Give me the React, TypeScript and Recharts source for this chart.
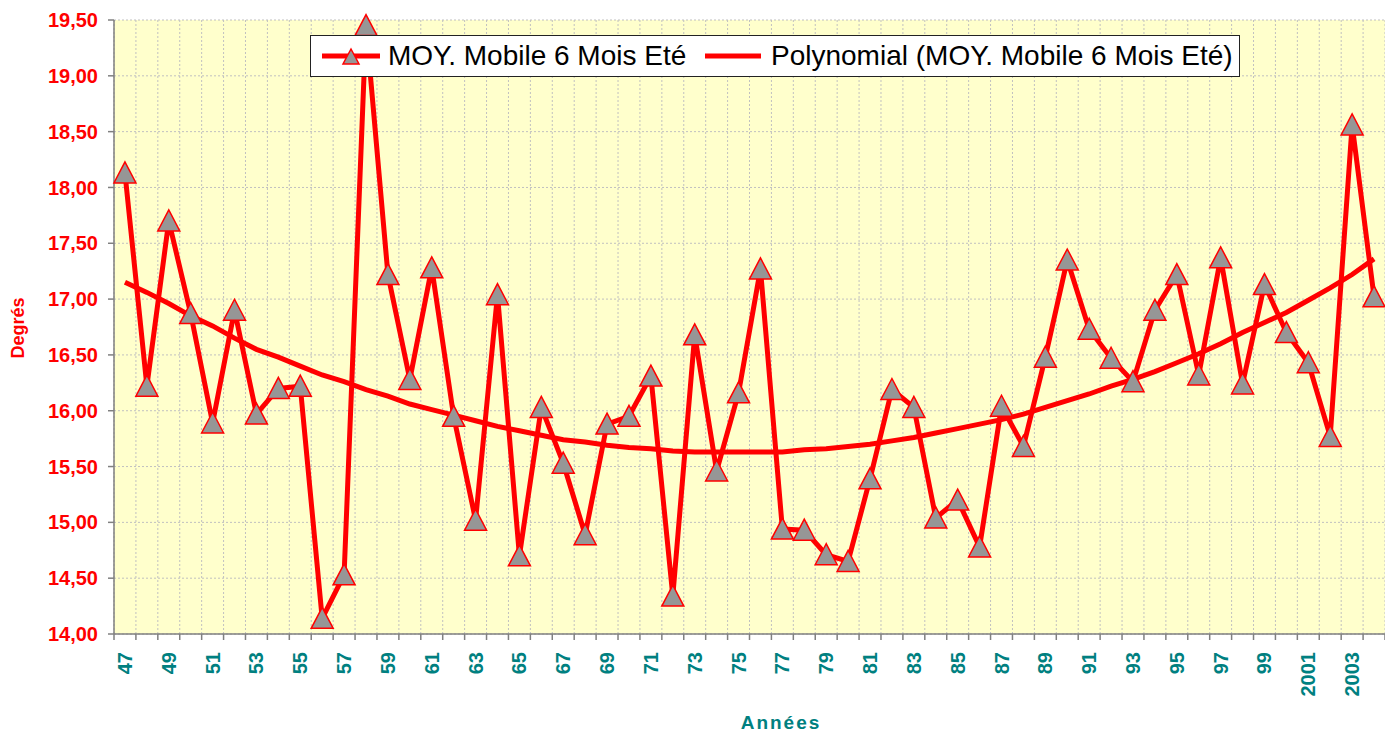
import React from "react";
import {
  LineChart,
  Line,
  XAxis,
  YAxis,
  CartesianGrid,
  Legend,
} from "recharts";

const years = [
  "47", "48", "49", "50", "51", "52", "53", "54", "55", "56",
  "57", "58", "59", "60", "61", "62", "63", "64", "65", "66",
  "67", "68", "69", "70", "71", "72", "73", "74", "75", "76",
  "77", "78", "79", "80", "81", "82", "83", "84", "85", "86",
  "87", "88", "89", "90", "91", "92", "93", "94", "95", "96",
  "97", "98", "99", "2000", "2001", "2002", "2003", "2004",
];

const moyMobile = [
  18.13, 16.22, 17.7, 16.87, 15.89, 16.9, 15.97, 16.2, 16.22, 14.14,
  14.53, 19.45, 17.22, 16.28, 17.28, 15.95, 15.02, 17.04, 14.7, 16.03,
  15.53, 14.89, 15.88, 15.95, 16.31, 14.34, 16.68, 15.46, 16.16, 17.27,
  14.94, 14.93, 14.71, 14.65, 15.39, 16.19, 16.03, 15.04, 15.2, 14.78,
  16.04, 15.68, 16.48, 17.35, 16.73, 16.47, 16.26, 16.9, 17.22, 16.32,
  17.37, 16.24, 17.13, 16.7, 16.43, 15.77, 18.56, 17.02,
];

const polynomial = [
  17.15, 17.06, 16.96, 16.85, 16.76, 16.65, 16.55, 16.48, 16.4, 16.32,
  16.26, 16.19, 16.13, 16.06, 16.01, 15.96, 15.91, 15.86, 15.82, 15.78,
  15.74, 15.72, 15.69, 15.67, 15.66, 15.64, 15.63, 15.63, 15.63, 15.63,
  15.63, 15.65, 15.66, 15.68, 15.7, 15.73, 15.76, 15.8, 15.84, 15.88,
  15.92, 15.97, 16.03, 16.09, 16.15, 16.22, 16.28, 16.35, 16.43, 16.51,
  16.6, 16.7, 16.79, 16.88, 16.99, 17.1, 17.22, 17.36,
];

const yTicks = [14, 14.5, 15, 15.5, 16, 16.5, 17, 17.5, 18, 18.5, 19, 19.5];

const SERIES_NAME = "MOY. Mobile 6 Mois Eté";
const TREND_NAME = "Polynomial (MOY. Mobile 6 Mois Eté)";

const FONT = '"Liberation Sans", Arial, sans-serif';
const RED = "#FF0000";
const TEAL = "#008080";

const WIDTH = 1385;
const HEIGHT = 738;
const Y_AXIS_W = 114;
const X_AXIS_H = 104;
const BAND = (WIDTH - Y_AXIS_W) / years.length;

// category boundaries (ticks + vertical grid sit between categories, Excel style)
const xTicks = Array.from({ length: years.length + 1 }, (_, i) => i);

const data = years.map((year, i) => ({
  pos: i + 0.5,
  year,
  value: moyMobile[i],
  trend: polynomial[i],
}));

const Triangle = ({ cx, cy, size = 11 }: any) => {
  if (cx == null || cy == null) return null;
  return (
    <polygon
      points={`${cx},${cy - size} ${cx - size},${cy + size - 1} ${cx + size},${cy + size - 1}`}
      fill="#969696"
      stroke={RED}
      strokeWidth={1.5}
    />
  );
};

const XTick = ({ x, y, payload }: any) => {
  const i = payload.value;
  if (i % 2 !== 0 || i >= years.length) return <g />;
  const cx = x + BAND / 2;
  return (
    <text
      x={cx}
      y={y}
      transform={`rotate(-90, ${cx}, ${y})`}
      textAnchor="end"
      dominantBaseline="central"
      fill={TEAL}
      fontSize={20}
      fontWeight="bold"
      fontFamily={FONT}
    >
      {years[i]}
    </text>
  );
};

const LegendBox = () => (
  <div
    style={{
      position: "relative",
      width: 930,
      height: 42,
      boxSizing: "border-box",
      border: "1px solid #222",
      background: "#fff",
      fontFamily: FONT,
      fontSize: 28,
      color: "#000",
    }}
  >
    <svg width={60} height={30} style={{ position: "absolute", left: 11, top: 5 }}>
      <line x1={0} y1={15} x2={58} y2={15} stroke={RED} strokeWidth={5} />
      <Triangle cx={29} cy={16} size={8} />
    </svg>
    <span style={{ position: "absolute", left: 77, top: 3, lineHeight: "34px" }}>
      {SERIES_NAME}
    </span>
    <svg width={60} height={30} style={{ position: "absolute", left: 394, top: 5 }}>
      <line x1={0} y1={15} x2={56} y2={15} stroke={RED} strokeWidth={5} />
    </svg>
    <span style={{ position: "absolute", left: 460, top: 3, lineHeight: "34px" }}>
      {TREND_NAME}
    </span>
  </div>
);

export default function App() {
  return (
    <div style={{ position: "absolute", left: 0, top: 0, width: WIDTH, height: HEIGHT, background: "#fff" }}>
      <LineChart
        width={WIDTH}
        height={HEIGHT}
        data={data}
        margin={{ top: 20, right: 0, left: 0, bottom: 0 }}
      >
        <CartesianGrid
          stroke="#C0C0C0"
          strokeDasharray="2 2"
          fill="#FFFFCC"
          fillOpacity={1}
        />
        <XAxis
          type="number"
          dataKey="pos"
          domain={[0, years.length]}
          ticks={xTicks}
          interval={0}
          height={X_AXIS_H}
          tick={<XTick />}
          tickSize={6}
          tickMargin={12}
          axisLine={{ stroke: "#808080", strokeWidth: 1.5 }}
          tickLine={{ stroke: "#808080", strokeWidth: 1.5 }}
          label={{
            content: () => (
              <text
                x={781}
                y={722}
                textAnchor="middle"
                dominantBaseline="central"
                fill={TEAL}
                fontSize={19}
                fontWeight="bold"
                letterSpacing={2}
                fontFamily={FONT}
              >
                Années
              </text>
            ),
          }}
        />
        <YAxis
          type="number"
          domain={[14, 19.5]}
          ticks={yTicks}
          interval={0}
          width={Y_AXIS_W}
          tickFormatter={(v: number) => v.toFixed(2).replace(".", ",")}
          tick={{ fill: RED, fontSize: 20, fontWeight: "bold", fontFamily: FONT }}
          tickSize={6}
          tickMargin={10}
          axisLine={{ stroke: "#808080", strokeWidth: 1.5 }}
          tickLine={{ stroke: "#808080", strokeWidth: 1.5 }}
          label={{
            content: () => (
              <text
                x={18}
                y={328}
                transform="rotate(-90, 18, 328)"
                textAnchor="middle"
                dominantBaseline="central"
                fill={RED}
                fontSize={18}
                fontWeight="bold"
                fontFamily={FONT}
              >
                Degrés
              </text>
            ),
          }}
        />
        <Line
          type="linear"
          dataKey="trend"
          name={TREND_NAME}
          stroke={RED}
          strokeWidth={5}
          dot={false}
          activeDot={false}
          isAnimationActive={false}
        />
        <Line
          type="linear"
          dataKey="value"
          name={SERIES_NAME}
          stroke={RED}
          strokeWidth={5}
          dot={(p: any) => <Triangle key={`d-${p.index}`} cx={p.cx} cy={p.cy} />}
          activeDot={false}
          isAnimationActive={false}
        />
        <Legend
          layout="horizontal"
          verticalAlign="middle"
          align="center"
          content={<LegendBox />}
          wrapperStyle={{ left: 310, top: 35, width: 930, height: 42 }}
        />
      </LineChart>
    </div>
  );
}
